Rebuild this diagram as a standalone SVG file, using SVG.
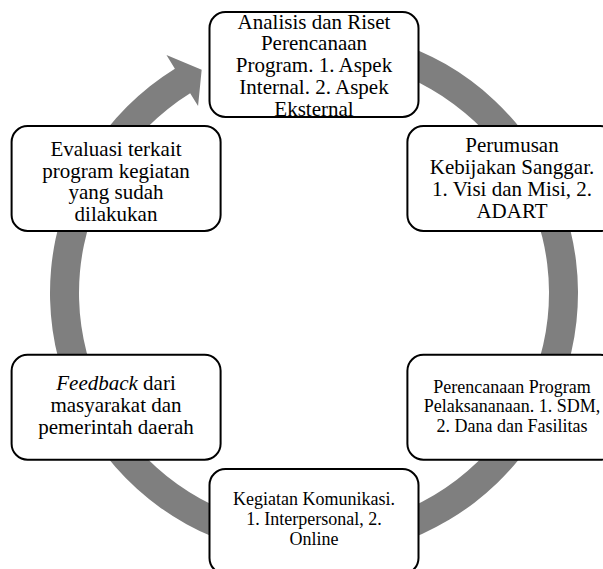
<svg xmlns="http://www.w3.org/2000/svg" width="603" height="569" viewBox="0 0 603 569">
<style>
.box{fill:#fff;stroke:#000;stroke-width:2}
.t{font-family:"Liberation Serif","Times New Roman",serif;font-size:21px;fill:#000;text-anchor:middle}
.s{font-size:18px}
</style>
<rect width="603" height="569" fill="#fff"/>
<g id="connectors">
<path d="M359.84,33.01 A264,264 0 1 1 174.88,68.63 L166.45,55.03 L201.67,69.66 L198.07,106.02 L190.16,93.28 A235,235 0 1 0 354.81,61.57 Z" fill="#7f7f7f"/>
</g>
<g id="n1">
<rect class="box" x="209.5" y="12" width="209" height="105" rx="16"/>
<text class="t" x="314"><tspan x="314" y="28.5">Analisis dan Riset</tspan><tspan x="314" y="50.3">Perencanaan</tspan><tspan x="314" y="72.1">Program. 1. Aspek</tspan><tspan x="314" y="93.9">Internal. 2. Aspek</tspan><tspan x="314" y="115.7">Eksternal</tspan></text>
</g>
<g id="n2">
<rect class="box" x="407.4" y="126" width="209" height="105" rx="16"/>
<text class="t"><tspan x="512" y="152">Perumusan</tspan><tspan x="512" y="174">Kebijakan Sanggar.</tspan><tspan x="512" y="196">1. Visi dan Misi, 2.</tspan><tspan x="512" y="218">ADART</tspan></text>
</g>
<g id="n3">
<rect class="box" x="407.4" y="354.75" width="209" height="105" rx="16"/>
<text class="t s"><tspan x="512" y="392.5">Perencanaan Program</tspan><tspan x="512" y="412">Pelaksananaan. 1. SDM,</tspan><tspan x="512" y="431.5">2. Dana dan Fasilitas</tspan></text>
</g>
<g id="n4">
<rect class="box" x="209.5" y="469" width="209" height="105" rx="16"/>
<text class="t s"><tspan x="314" y="505">Kegiatan Komunikasi.</tspan><tspan x="314" y="525">1. Interpersonal, 2.</tspan><tspan x="314" y="545">Online</tspan></text>
</g>
<g id="n5">
<rect class="box" x="11.6" y="354.75" width="209" height="105" rx="16"/>
<text class="t"><tspan x="116" y="390"><tspan font-style="italic">Feedback</tspan> dari</tspan><tspan x="116" y="412">masyarakat dan</tspan><tspan x="116" y="434">pemerintah daerah</tspan></text>
</g>
<g id="n6">
<rect class="box" x="11.6" y="126" width="209" height="105" rx="16"/>
<text class="t"><tspan x="116" y="156">Evaluasi terkait</tspan><tspan x="116" y="177.5">program kegiatan</tspan><tspan x="116" y="199">yang sudah</tspan><tspan x="116" y="220.5">dilakukan</tspan></text>
</g>
</svg>
